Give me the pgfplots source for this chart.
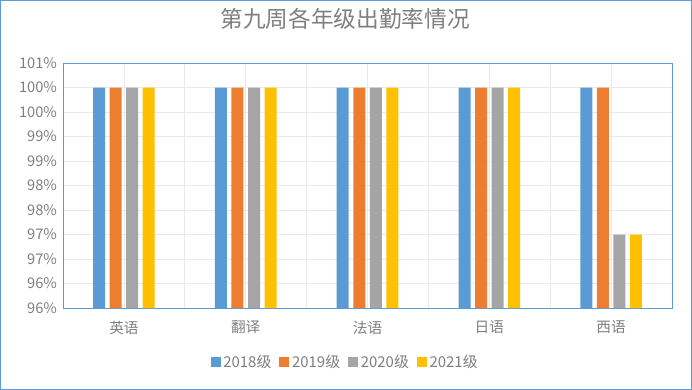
\documentclass[border=0pt]{standalone}
\usepackage{pgfplots}
\pgfplotsset{compat=1.18}
\usepackage{fontspec}
\setmainfont{Noto Sans CJK SC}
\definecolor{cA}{HTML}{5B9BD5}
\definecolor{cB}{HTML}{ED7D31}
\definecolor{cC}{HTML}{A5A5A5}
\definecolor{cD}{HTML}{FFC000}
\definecolor{txt}{HTML}{7F7F7F}
\definecolor{frame}{HTML}{5B9BD5}
\definecolor{gridc}{HTML}{EAEAEA}
\begin{document}
\begin{tikzpicture}
\begin{axis}[
  scale only axis,
  width=456.75pt, height=183.75pt,
  xmin=-0.5, xmax=4.5,
  ymin=95.5, ymax=100.5,
  xtick={0,1,2,3,4},
  minor xtick={0.5,1.5,2.5,3.5},
  xticklabels={英语,翻译,法语,日语,西语},
  ytick={95.5,96,96.5,97,97.5,98,98.5,99,99.5,100,100.5},
  yticklabels={96\%,96\%,97\%,97\%,98\%,98\%,99\%,99\%,100\%,100\%,101\%},
  major tick length=0pt, minor tick length=0pt,
  ymajorgrids, xmajorgrids, xminorgrids,
  grid style={gridc, line width=0.6pt},
  minor grid style={gridc, line width=0.6pt},
  axis line style={frame, line width=0.75pt},
  tick label style={txt, font=\fontsize{11}{12}\selectfont},
  yticklabel style={xshift=-1pt},
  xticklabel style={yshift=-6pt},
  ybar=3.4pt, bar width=9pt,
  clip=false,
  title={第九周各年级出勤率情况},
  title style={txt, font=\fontsize{17}{20}\selectfont, at={(0.5,1)}, anchor=center, yshift=27pt, xshift=-16.9pt},
  legend style={at={(0.5,0)}, anchor=center, yshift=-40.5pt, xshift=-16.5pt, draw=none, fill=none,
    legend columns=4, font=\fontsize{11.2}{12}\selectfont, text=txt,
    /tikz/every even column/.append style={column sep=4pt}},
  legend image code/.code={\fill[#1] (0pt,-3.8pt) rectangle (7.5pt,3.8pt);},
]
\draw[frame, line width=0.75pt] ([xshift=-46.9pt,yshift=-61.1pt]rel axis cs:0,0) rectangle ([xshift=14.6pt,yshift=46.9pt]rel axis cs:1,1);
\addplot[fill=cA, draw=none] coordinates {(0,100) (1,100) (2,100) (3,100) (4,100)};
\addplot[fill=cB, draw=none] coordinates {(0,100) (1,100) (2,100) (3,100) (4,100)};
\addplot[fill=cC, draw=none] coordinates {(0,100) (1,100) (2,100) (3,100) (4,97)};
\addplot[fill=cD, draw=none] coordinates {(0,100) (1,100) (2,100) (3,100) (4,97)};
\legend{2018级,2019级,2020级,2021级}
\end{axis}
\end{tikzpicture}
\end{document}
